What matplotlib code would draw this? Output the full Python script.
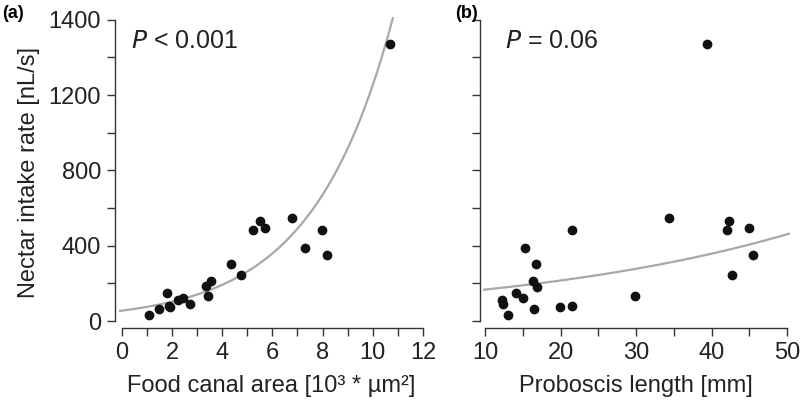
import numpy as np
import matplotlib.pyplot as plt

# panel (a): food canal area vs nectar intake rate
canal_area = [1.09, 1.50, 1.79, 1.88, 1.94, 2.23, 2.42, 2.72, 3.36, 3.45, 3.56,
              4.35, 4.75, 5.22, 5.52, 5.70, 6.80, 7.30, 7.97, 8.19, 10.68]
intake_a = [30, 66, 149, 78, 75, 110, 122, 89, 185, 135, 211,
            303, 245, 484, 530, 493, 545, 387, 484, 349, 1472]

# panel (b): proboscis length vs nectar intake rate
proboscis = [12.30, 12.35, 13.01, 14.07, 15.04, 15.31, 16.50, 16.73, 16.42, 16.86, 19.96,
             21.50, 21.50, 29.82, 34.38, 39.38, 41.99, 42.26, 42.74, 44.96, 45.53]
intake_b = [110, 89, 30, 149, 122, 387, 66, 303, 211, 181, 76,
            78, 484, 135, 545, 1472, 484, 530, 245, 493, 349]

# exponential fits
fit_a = (55, 0.3126)
fit_b = (129.5, 0.0254)

y_ticks = [0, 400, 800, 1200, 1600]
y_labels = ["0", "400", "800", "1200", "1400"]

FONT = ["Liberation Sans Narrow", "Liberation Sans", "DejaVu Sans"]
plt.rcParams["font.family"] = FONT
DARK = "#333333"

W, H = 809, 405
fig = plt.figure(figsize=(W / 100, H / 100), dpi=100)


def px_axes(left, right, top, bottom):
    return fig.add_axes([left / W, 1 - bottom / H, (right - left) / W, (bottom - top) / H])


def style(ax, xticks, xlabels):
    for s in ("top", "right"):
        ax.spines[s].set_visible(False)
    for s in ("left", "bottom"):
        ax.spines[s].set_color(DARK)
        ax.spines[s].set_linewidth(1.0)
    ax.spines["left"].set_bounds(0, 1600)
    ax.spines["bottom"].set_bounds(xticks[0], xticks[-1])
    ax.set_xticks(xticks)
    ax.set_xticklabels(xlabels)
    ax.set_yticks(np.arange(0, 1601, 200))
    ax.tick_params(direction="out", length=6, width=1.0, color=DARK,
                   labelcolor="#222222", labelsize=17, pad=4)


# panel (a)
ax1 = px_axes(115, 428, 16, 328)
ax1.set_xlim(-0.27, 12.2)
ax1.set_ylim(-37, 1620)
xa = np.linspace(-0.07, 10.8, 200)
ax1.plot(xa, fit_a[0] * np.exp(fit_a[1] * xa), color="#a8a8a8", lw=1.6, clip_on=False)
ax1.scatter(canal_area, intake_a, s=36, color="#111111", zorder=3, clip_on=False)
style(ax1, list(range(0, 13)), [str(v) if v % 2 == 0 else "" for v in range(0, 13)])
ax1.set_yticklabels([y_labels[y_ticks.index(v)] if v in y_ticks else ""
                     for v in range(0, 1601, 200)])
ax1.set_xlabel("Food canal area [10³ * µm²]", fontsize=17, color="#222222", labelpad=8)
ax1.set_ylabel("Nectar intake rate [nL/s]", fontsize=17, color="#222222", labelpad=6)
ax1.text(0.05, 0.92, r"$\it{P}$ < 0.001", transform=ax1.transAxes, fontsize=18,
         color="#222222", va="center")

# panel (b)
ax2 = px_axes(480, 791, 16, 328)
ax2.set_xlim(9.34, 50.5)
ax2.set_ylim(-37, 1620)
xb = np.linspace(9.9, 50.2, 200)
ax2.plot(xb, fit_b[0] * np.exp(fit_b[1] * xb), color="#a8a8a8", lw=1.6, clip_on=False)
ax2.scatter(proboscis, intake_b, s=36, color="#111111", zorder=3, clip_on=False)
style(ax2, list(range(10, 51, 5)), [str(v) if v % 10 == 0 else "" for v in range(10, 51, 5)])
ax2.set_yticklabels([])
ax2.set_xlabel("Proboscis length [mm]", fontsize=17, color="#222222", labelpad=8)
ax2.text(0.08, 0.92, r"$\it{P}$ = 0.06", transform=ax2.transAxes, fontsize=18,
         color="#222222", va="center")

fig.text(2 / W, 1 - 14 / H, "(a)", fontsize=13, fontweight="bold", va="center")
fig.text(455 / W, 1 - 14 / H, "(b)", fontsize=13, fontweight="bold", va="center")

fig.savefig("out.png", dpi=100)
